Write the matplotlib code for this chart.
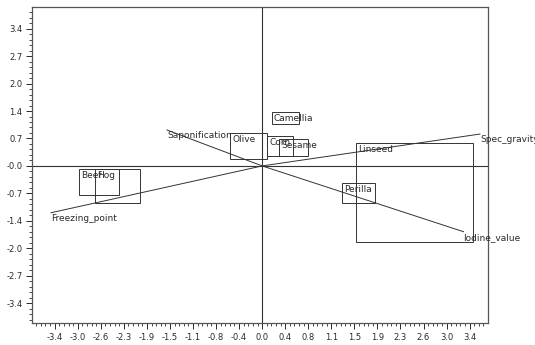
import matplotlib
matplotlib.use("Agg")
import matplotlib.pyplot as plt
from matplotlib.patches import Rectangle
from matplotlib.ticker import AutoMinorLocator

plt.rcParams["font.family"] = ["Liberation Sans Narrow", "DejaVu Sans"]

# variable vectors (biplot loadings)
var_names = ["Saponification", "Spec_gravity", "Iodine_value", "Freezing_point"]
var_x = [-1.56, 3.57, 3.30, -3.46]
var_y = [0.89, 0.79, -1.63, -1.16]

# group ranges of the scores
groups = ["Camellia", "Olive", "Corn", "Sesame", "Linseed", "Perilla", "Beef", "Hog"]
grp_xmin = [0.16, -0.52, 0.08, 0.28, 1.54, 1.31, -3.00, -2.74]
grp_xmax = [0.61, 0.08, 0.51, 0.75, 3.46, 1.85, -2.34, -2.00]
grp_ymin = [1.04, 0.17, 0.25, 0.25, -1.88, -0.92, -0.72, -0.92]
grp_ymax = [1.34, 0.82, 0.74, 0.67, 0.57, -0.42, -0.07, -0.07]

step_x = 3.4 / 9
step_y = 3.4 / 5
x_ticks = [round(i * step_x, 4) for i in range(-9, 10)]
x_labels = ["-3.4", "-3.0", "-2.6", "-2.3", "-1.9", "-1.5", "-1.1", "-0.8", "-0.4", "0.0",
            "0.4", "0.8", "1.1", "1.5", "1.9", "2.3", "2.6", "3.0", "3.4"]
y_ticks = [round(i * step_y, 4) for i in range(5, -6, -1)]
y_labels = ["3.4", "2.7", "2.0", "1.4", "0.7", "-0.0", "-0.7", "-1.4", "-2.0", "-2.7", "-3.4"]

line_col = "#333333"
text_col = "#2a2a2a"

fig = plt.figure(figsize=(5.35, 3.45), dpi=100)
ax = fig.add_axes([0.060, 0.064, 0.852, 0.916])

ax.axhline(0, color=line_col, lw=0.8)
ax.axvline(0, color=line_col, lw=0.8)

for name, vx, vy in zip(var_names, var_x, var_y):
    ax.plot([0, vx], [0, vy], color=line_col, lw=0.7)
    ax.annotate(name, (vx, vy), xytext=(0, -1), textcoords="offset points",
                ha="left", va="top", fontsize=6.5, color=text_col)

for name, x0, x1, y0, y1 in zip(groups, grp_xmin, grp_xmax, grp_ymin, grp_ymax):
    ax.add_patch(Rectangle((x0, y0), x1 - x0, y1 - y0, fill=False,
                           edgecolor=line_col, lw=0.7))
    ax.annotate(name, (x0, y1), xytext=(1.5, -1.5), textcoords="offset points",
                ha="left", va="top", fontsize=6.5, color=text_col)

ax.set_xlim(-3.77, 3.70)
ax.set_ylim(-3.89, 3.94)
ax.set_xticks(x_ticks)
ax.set_xticklabels(x_labels)
ax.set_yticks(y_ticks)
ax.set_yticklabels(y_labels)
ax.xaxis.set_minor_locator(AutoMinorLocator(5))
ax.yaxis.set_minor_locator(AutoMinorLocator(5))
ax.tick_params(which="major", length=4, width=0.7, labelsize=6, colors=text_col, pad=3)
ax.tick_params(which="minor", length=2, width=0.6, colors=text_col)

for s in ax.spines.values():
    s.set_color("#555555")
    s.set_linewidth(0.9)

fig.savefig("out.png", dpi=100)
